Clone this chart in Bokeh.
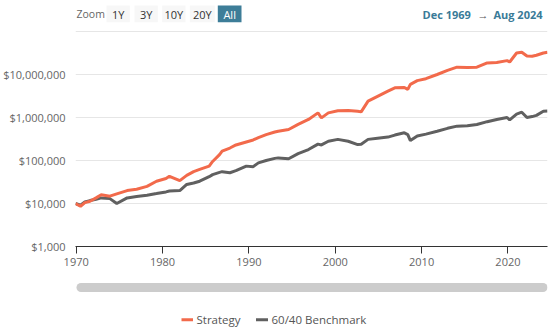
from bokeh.plotting import figure
from bokeh.models import Range1d, FixedTicker, NumeralTickFormatter, ColumnDataSource
from bokeh.layouts import column
from bokeh.embed import file_html
from bokeh.resources import INLINE
from bokeh.core.properties import value

FONT = value("Open Sans")

# ---- data ----
years = [1969.92, 1970.5, 1971.0, 1971.6, 1972.3, 1972.9, 1973.9, 1974.7, 1975.9, 1977.0,
         1978.2, 1979.3, 1980.4, 1980.8, 1982.0, 1982.8, 1983.6, 1984.3, 1985.4, 1985.8,
         1986.6, 1986.9, 1987.8, 1988.5, 1989.7, 1990.5, 1991.1, 1992.0, 1993.0, 1993.4,
         1994.6, 1995.7, 1996.9, 1998.0, 1998.4, 1999.2, 2000.3, 2001.5, 2002.6, 2003.0,
         2003.8, 2004.9, 2006.1, 2006.9, 2008.0, 2008.4, 2008.7, 2009.5, 2010.5, 2011.8,
         2013.0, 2014.1, 2015.3, 2016.4, 2017.6, 2018.7, 2019.9, 2020.2, 2021.0, 2021.6,
         2022.2, 2022.8, 2023.3, 2024.1, 2024.58]
strategy = [10000, 8600, 10500, 11300, 13500, 16000, 14800, 16700, 20000, 21500,
            25000, 33000, 38000, 43000, 34000, 45000, 55000, 62000, 74000, 95000,
            137000, 165000, 195000, 230000, 270000, 300000, 340000, 400000, 460000, 480000,
            525000, 690000, 900000, 1280000, 980000, 1280000, 1440000, 1450000, 1400000, 1350000,
            2400000, 3100000, 4100000, 4900000, 5000000, 4500000, 5900000, 7200000, 8000000, 10000000,
            12500000, 14800000, 14500000, 14800000, 18600000, 19000000, 21000000, 19500000, 31600000, 33000000,
            27000000, 26500000, 28000000, 31600000, 33000000]
benchmark = [10000, 9100, 10800, 11700, 12500, 13500, 13000, 10000, 13500, 14500,
             15600, 17000, 18600, 19500, 20000, 27700, 30000, 33000, 42000, 47000,
             53000, 55000, 52000, 58000, 74000, 72000, 88000, 100000, 112000, 115000,
             110000, 145000, 180000, 240000, 230000, 280000, 310000, 280000, 235000, 240000,
             310000, 330000, 350000, 390000, 440000, 400000, 290000, 370000, 410000, 480000,
             560000, 630000, 640000, 690000, 800000, 900000, 1000000, 880000, 1200000, 1330000,
             1000000, 1050000, 1120000, 1400000, 1420000]
x_ticks = [1970, 1980, 1990, 2000, 2010, 2020]
y_ticks = [1e3, 1e4, 1e5, 1e6, 1e7, 1e8]
zoom_buttons = ["1Y", "3Y", "10Y", "20Y", "All"]
range_from = "Dec 1969"
range_to = "Aug 2024"
series_names = ["Strategy", "60/40 Benchmark"]
series_colors = ["#f26a4b", "#606060"]

W = 551
FL, FR = 75, 547  # frame left / right in page pixels (frames are aligned by the column)

# ---- top bar (range selector) ----
top = figure(width=W, height=25, x_range=Range1d(FL, FR), y_range=Range1d(25, 0),
             output_backend="svg", toolbar_location=None, min_border=0,
             min_border_left=FL, min_border_right=W - FR)
top.axis.visible = False
top.grid.visible = False
top.outline_line_color = None
btn_left = [106, 134, 161.7, 189.3, 217.3]
btn_right = [129.3, 157.3, 185, 214.3, 241]
btn_fill = ["#f7f7f7"] * 4 + ["#3d7d98"]
btn_text_col = ["#333333"] * 4 + ["#ffffff"]
top.quad(left=btn_left, right=btn_right, top=5, bottom=21.7, fill_color=btn_fill, line_color=None)
top.text(x=[(a + b) / 2 for a, b in zip(btn_left, btn_right)], y=[13.6] * 5, text=zoom_buttons,
         text_color=btn_text_col, text_font=FONT, text_font_size="11px",
         text_align="center", text_baseline="middle")
top.text(x=[76], y=[13.6], text=["Zoom"], text_color="#666666", text_font=FONT,
         text_font_size="10.5px", text_align="left", text_baseline="middle")
top.text(x=[422], y=[13.6], text=[range_from], text_color="#3a7b98", text_font=FONT,
         text_font_size="11px", text_font_style="bold", text_align="left", text_baseline="middle")
top.text(x=[482.5], y=[13.6], text=["\u2192"], text_color="#555555", text_font=FONT,
         text_font_size="11px", text_align="center", text_baseline="middle")
top.text(x=[542], y=[13.6], text=[range_to], text_color="#3a7b98", text_font=FONT,
         text_font_size="11px", text_font_style="bold", text_align="right", text_baseline="middle")

# ---- main chart ----
p = figure(width=W, height=247, y_axis_type="log",
           x_range=Range1d(years[0], years[-1]), y_range=Range1d(1e3, 10 ** (8 + 1 / 43)),
           output_backend="svg", toolbar_location=None,
           min_border_left=FL, min_border_right=W - FR, min_border_top=5, min_border_bottom=26)
p.outline_line_color = None
src = ColumnDataSource(dict(x=years, s=strategy, b=benchmark))
p.line("x", "b", source=src, line_color=series_colors[1], line_width=3)
p.line("x", "s", source=src, line_color=series_colors[0], line_width=3)

p.xgrid.visible = False
p.ygrid.grid_line_color = "#e6e6e6"
p.ygrid.grid_line_width = 1
p.yaxis.ticker = FixedTicker(ticks=y_ticks, minor_ticks=[])
p.yaxis.formatter = NumeralTickFormatter(format="$0,0")
p.yaxis.major_label_overrides = {1e8: ""}
p.yaxis.axis_line_color = None
p.yaxis.major_tick_line_color = None
p.yaxis.minor_tick_line_color = None
p.yaxis.major_tick_out = 0
p.yaxis.major_tick_in = 0
p.yaxis.minor_tick_out = 0
p.yaxis.minor_tick_in = 0
p.yaxis.major_label_standoff = 10
p.yaxis.major_label_text_font = "Open Sans"
p.yaxis.major_label_text_font_size = "11px"
p.yaxis.major_label_text_color = "#666666"

p.xaxis.ticker = FixedTicker(ticks=x_ticks, minor_ticks=[])
p.xaxis.formatter = NumeralTickFormatter(format="0")
p.xaxis.axis_line_color = "#333333"
p.xaxis.major_tick_line_color = "#333333"
p.xaxis.major_tick_out = 7
p.xaxis.major_tick_in = 0
p.xaxis.minor_tick_line_color = None
p.xaxis.major_label_standoff = 4
p.xaxis.major_label_text_font = "Open Sans"
p.xaxis.major_label_text_font_size = "11px"
p.xaxis.major_label_text_color = "#666666"

# ---- bottom: scrollbar + legend ----
bot = figure(width=W, height=55, x_range=Range1d(FL, FR), y_range=Range1d(55, 0),
             output_backend="svg", toolbar_location=None, min_border=0,
             min_border_left=FL, min_border_right=W - FR)
bot.axis.visible = False
bot.grid.visible = False
bot.outline_line_color = None
bot.line(x=[80.5, 542.5], y=[15, 15], line_color="#cccccc", line_width=9, line_cap="round")
bot.segment(x0=[181, 255.5], x1=[192.5, 267.5], y0=[47.3, 47.3], y1=[47.3, 47.3],
            line_color=series_colors, line_width=3)
bot.text(x=[196, 271], y=[47.3, 47.3], text=series_names, text_color="#555555",
         text_font=FONT, text_font_size="11.5px", text_align="left", text_baseline="middle")

layout = column(top, p, bot, spacing=0)
open("out.html", "w").write(file_html(layout, INLINE))
